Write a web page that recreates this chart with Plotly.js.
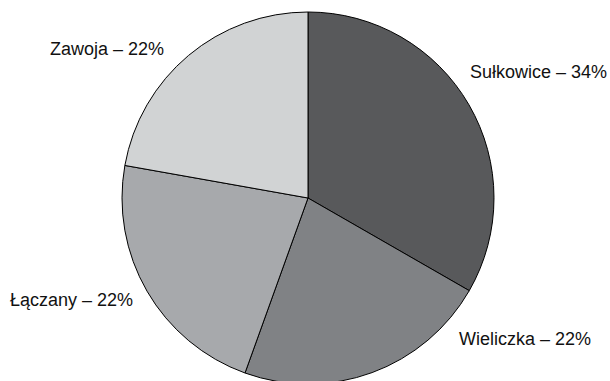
<!DOCTYPE html>
<html>
<head>
<meta charset="utf-8">
<script src="https://cdn.plot.ly/plotly-3.0.1.min.js"></script>
<style>
html, body { margin: 0; padding: 0; overflow: hidden; background: #ffffff; }
#chart { width: 610px; height: 384px; }
</style>
</head>
<body>
<div id="chart"></div>
<script>
const categories = ["Sułkowice", "Wieliczka", "Łączany", "Zawoja"];
// printed percentages (label text)
const percentLabels = ["34%", "22%", "22%", "22%"];
// slice sizes as drawn in the picture (angles)
const values = [33.3, 22.2, 22.3, 22.2];
const colors = ["#58595b", "#808285", "#a7a9ac", "#d1d3d4"];

const W = 610, H = 384;
// label centres in pixels (layout only)
const labelPos = [[538, 72], [524.5, 338.5], [71, 300], [106.5, 48.5]];

const annotations = categories.map((c, i) => ({
  text: c + " – " + percentLabels[i],
  xref: "paper", yref: "paper",
  x: labelPos[i][0] / W, y: (H - labelPos[i][1]) / H,
  xanchor: "center", yanchor: "middle",
  showarrow: false,
  font: { family: "Liberation Sans, Arial, sans-serif", size: 18, color: "#111111" }
}));

const trace = {
  type: "pie",
  labels: categories,
  values: values,
  sort: false,
  direction: "clockwise",
  rotation: 0,
  marker: { colors: colors, line: { color: "#000000", width: 1 } },
  textinfo: "none",
  hoverinfo: "label",
  domain: { x: [122 / W, 494 / W], y: [0, 372 / H] },
  showlegend: false
};

Plotly.newPlot("chart", [trace], {
  width: W, height: H,
  margin: { l: 0, r: 0, t: 0, b: 0 },
  paper_bgcolor: "#ffffff",
  plot_bgcolor: "#ffffff",
  showlegend: false,
  annotations: annotations
}, { staticPlot: true });
</script>
</body>
</html>
